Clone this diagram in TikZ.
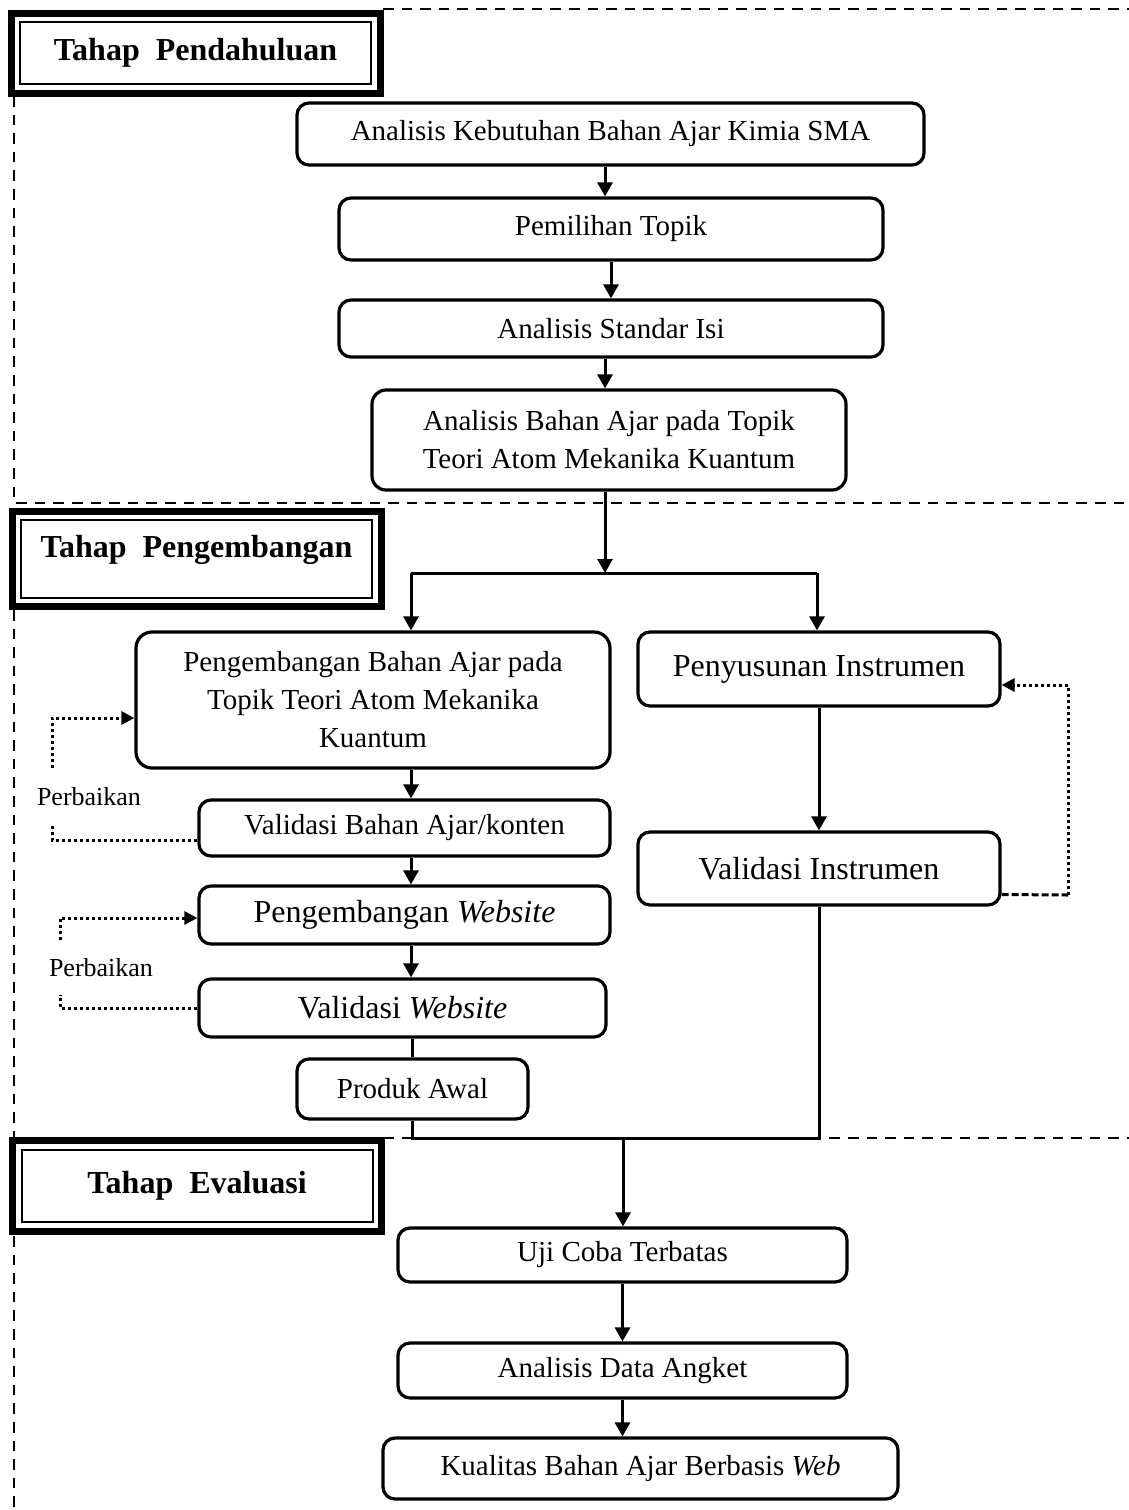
\documentclass[tikz,border=0pt]{standalone}
\usepackage{fontspec}
\setmainfont{Liberation Serif}
\usetikzlibrary{arrows.meta,calc}
\tikzset{
  procbox/.style={
    rectangle, rounded corners=6pt, draw, line width=1.6pt,
    font=\fontsize{14.5}{19}\selectfont, align=center, inner sep=2pt
  },
  procboxlg/.style={
    procbox, font=\fontsize{16}{19}\selectfont
  },
  phasebox/.style={
    rectangle, draw, line width=1pt, minimum width=175.5pt,
    font=\bfseries\fontsize{16}{19}\selectfont, align=center, inner sep=2pt
  },
  flowarrow/.style={
    -{Triangle[length=7pt,width=7.5pt]}, line width=1.5pt
  },
  flowline/.style={
    line width=1.5pt
  },
  fixloop/.style={
    line width=1.5pt, dash pattern=on 1.5pt off 1.5pt
  },
  fixdash/.style={
    line width=1.5pt, dash pattern=on 3.5pt off 1.5pt
  },
  fixtip/.style={
    -{Triangle[length=6.5pt,width=6.5pt]}
  },
  fixlabel/.style={
    font=\fontsize{13}{15}\selectfont, inner sep=0pt
  },
  framedash/.style={
    line width=1.2pt, dash pattern=on 5.3pt off 4pt
  },
}

\begin{document}
\begin{tikzpicture}[x=0.5pt,y=-0.5pt]
  \useasboundingbox (0,0) rectangle (1129,1510);

  % section frames
  \draw[framedash] (383,9) -- (1129,9);
  \draw[framedash] (14,96) -- (14,503) -- (1129,503);
  \draw[framedash] (14,610) -- (14,1138);
  \draw[framedash] (383,1138) -- (1129,1138);
  \draw[framedash] (14,1236) -- (14,1510);

  % phase headers
  \node[phasebox, minimum height=31pt] (hd1) at (195.5,53) {Tahap~~Pendahuluan};
  \node[phasebox, minimum height=38.75pt, text depth=12.5pt] (hd2) at (196.5,559) {Tahap~~Pengembangan};
  \node[phasebox, minimum height=36.25pt] (hd3) at (197,1186) {Tahap~~Evaluasi};
  \foreach \h in {hd1,hd2,hd3}
    \draw[line width=3.5pt] ([shift={(-4pt,4pt)}]\h.north west) rectangle ([shift={(4pt,-4pt)}]\h.south east);

  % Tahap Pendahuluan
  \node[procbox, minimum width=313.5pt, minimum height=31pt] (b1) at (610.5,134) {Analisis Kebutuhan Bahan Ajar Kimia SMA};
  \node[procbox, minimum width=272pt, minimum height=31pt] (b2) at (611,229) {Pemilihan Topik};
  \node[procbox, minimum width=272pt, minimum height=28.5pt] (b3) at (611,328.5) {Analisis Standar Isi};
  \node[procbox, rounded corners=7pt, minimum width=237pt, minimum height=50pt] (b4) at (609,440)
    {Analisis Bahan Ajar pada Topik\\Teori Atom Mekanika Kuantum};

  % Tahap Pengembangan
  \node[procbox, rounded corners=8pt, minimum width=237pt, minimum height=68pt] (b5) at (373,700)
    {Pengembangan Bahan Ajar pada\\Topik Teori Atom Mekanika\\Kuantum};
  \node[procboxlg, minimum width=181pt, minimum height=37pt] (b6) at (819,669) {Penyusunan Instrumen};
  \node[procbox, minimum width=205.5pt, minimum height=28pt] (b7) at (404.5,828) {Validasi Bahan Ajar/konten};
  \node[procboxlg, minimum width=205.5pt, minimum height=29pt] (b8) at (404.5,915) {Pengembangan \textit{Website}};
  \node[procboxlg, minimum width=203.5pt, minimum height=29pt] (b9) at (402.5,1008) {Validasi \textit{Website}};
  \node[procboxlg, minimum width=181pt, minimum height=36.5pt] (b10) at (819,868.5) {Validasi Instrumen};
  \node[procbox, minimum width=115.5pt, minimum height=30pt] (b11) at (412.5,1089) {Produk Awal};

  % Tahap Evaluasi
  \node[procbox, minimum width=224.5pt, minimum height=27pt] (b12) at (622.5,1255) {Uji Coba Terbatas};
  \node[procbox, minimum width=224.5pt, minimum height=27.5pt] (b13) at (622.5,1370.5) {Analisis Data Angket};
  \node[procbox, minimum width=257.5pt, minimum height=30.5pt] (b14) at (640.5,1468.5) {Kualitas Bahan Ajar Berbasis \textit{Web}};

  % junction points
  \coordinate (k1) at (605,573);
  \coordinate (k2) at (411,573);
  \coordinate (k3) at (817,573);
  \coordinate (k4) at (623,1138);

  % main flow
  \draw[flowarrow] (b1.south -| k1) -- (b2.north -| k1);
  \draw[flowarrow] (b2.south) -- (b2.south |- b3.north);
  \draw[flowarrow] (b3.south -| k1) -- (b4.north -| k1);
  \draw[flowarrow] (b4.south -| k1) -- (k1);
  \draw[flowline] (k2) -- (k3);
  \draw[flowarrow] (k2) -- (k2 |- b5.north);
  \draw[flowarrow] (k3) -- (k3 |- b6.north);
  \draw[flowarrow] (b5.south -| k2) -- (b7.north -| k2);
  \draw[flowarrow] (b7.south -| k2) -- (b8.north -| k2);
  \draw[flowarrow] (b8.south -| k2) -- (b9.north -| k2);
  \draw[flowline] (b11.north |- b9.south) -- (b11.north);
  \draw[flowarrow] (b6.south) -- (b6.south |- b10.north);
  \draw[flowline] (b11.south) |- (b10.south |- k4) -- (b10.south);
  \draw[flowarrow] (k4) -- (k4 |- b12.north);
  \draw[flowarrow] (b12.south) -- (b12.south |- b13.north);
  \draw[flowarrow] (b13.south) -- (b13.south |- b14.north);

  % revision loops
  \node[fixlabel] (p1) at (89,797) {Perbaikan};
  \node[fixlabel] (p2) at (101,968) {Perbaikan};
  \coordinate (f1) at (52,824);
  \coordinate (f2) at (52,768);
  \coordinate (f3) at (60,995);
  \coordinate (f4) at (60,940);
  \coordinate (r1) at (1068,895);
  \draw[fixloop] ([yshift=-6pt]b7.west) -| (f1);
  \draw[fixloop, fixtip] (f2) |- ([yshift=-9pt]b5.west);
  \draw[fixloop] (b9.west) -| (f3);
  \draw[fixloop, fixtip] (f4) |- ([yshift=-1.5pt]b8.west);
  \draw[fixdash] ([yshift=-13pt]b10.east) -- (r1);
  \draw[fixloop, fixtip] (r1) |- ([yshift=-8pt]b6.east);
\end{tikzpicture}
\end{document}
